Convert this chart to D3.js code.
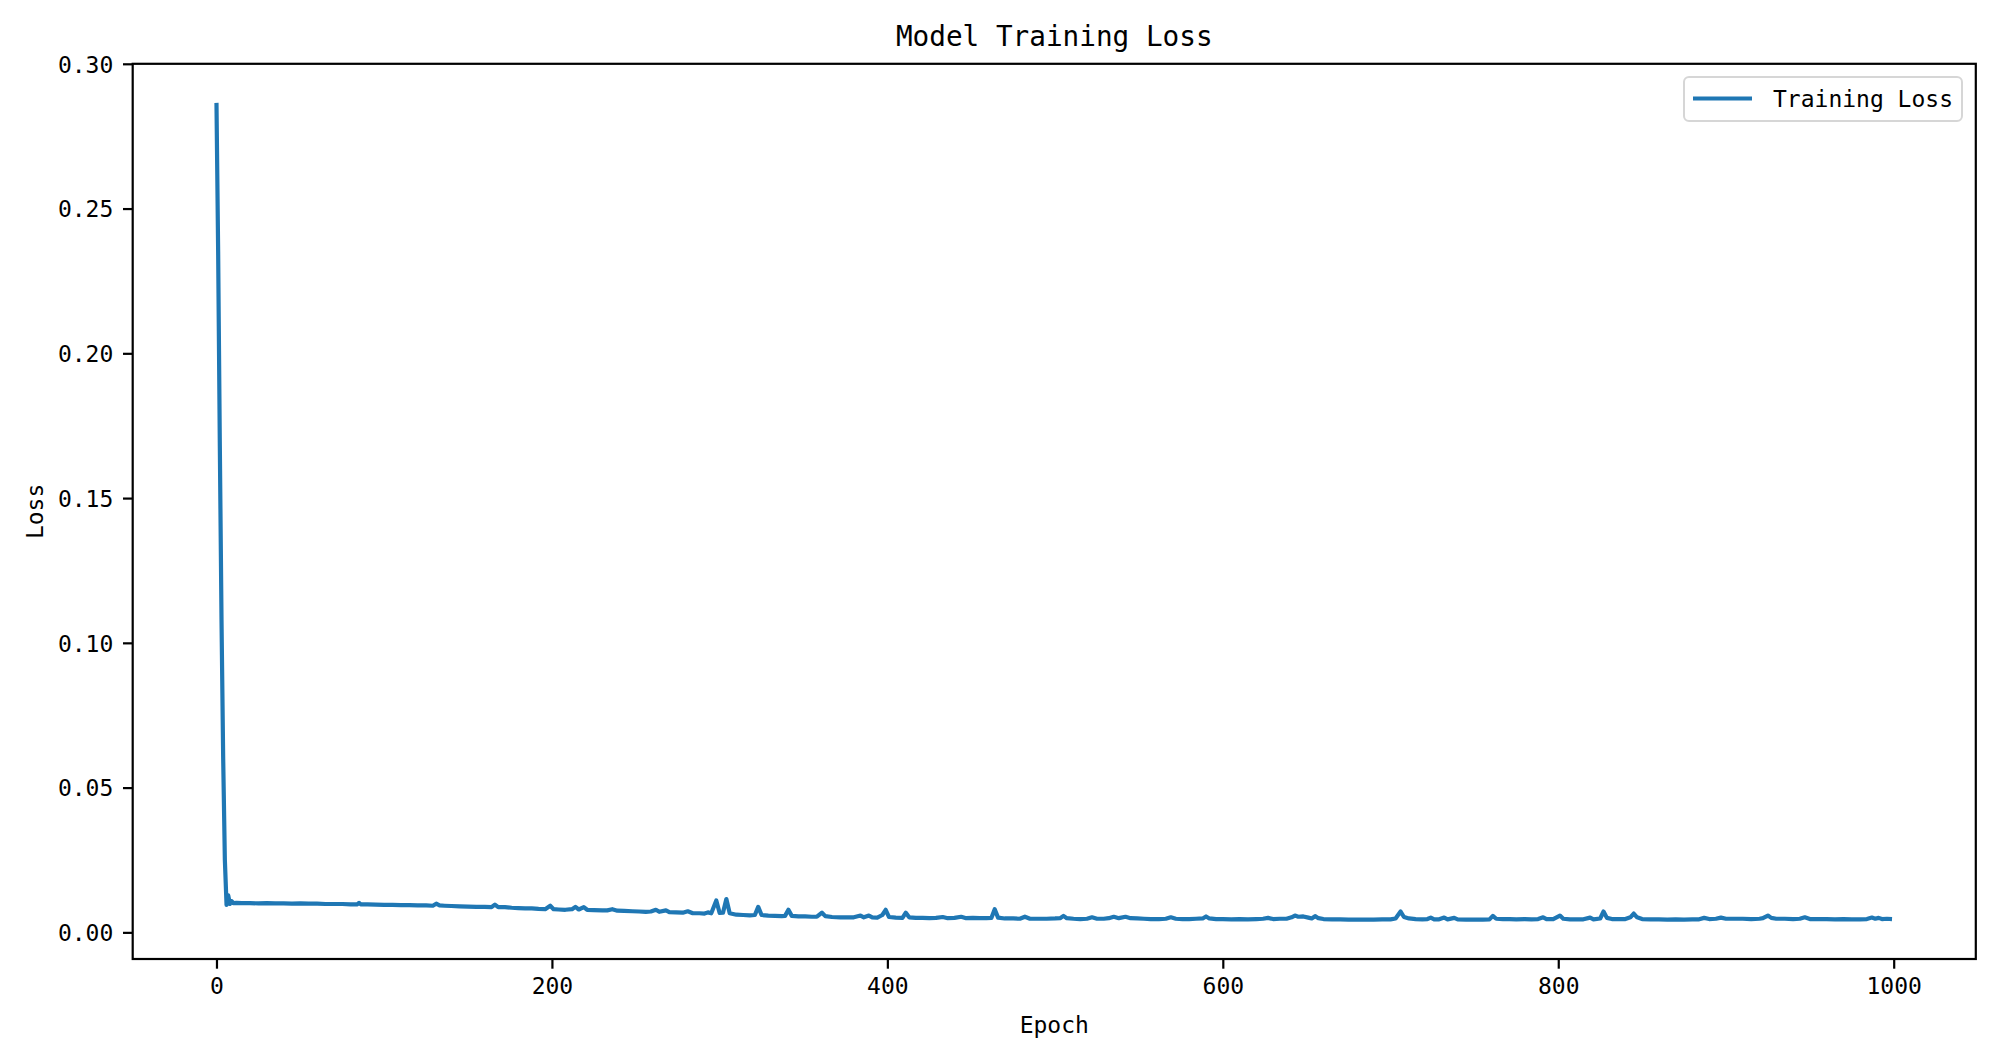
<!DOCTYPE html>
<html>
<head>
<meta charset="utf-8">
<script src="https://cdn.jsdelivr.net/npm/d3@7"></script>
<style>
  html, body { margin: 0; padding: 0; background: #ffffff; }
  svg { display: block; }
  text { font-family: "DejaVu Sans Mono", "Liberation Mono", monospace; fill: #000; }
</style>
</head>
<body>
<svg id="chart" width="2000" height="1060"></svg>
<script>
// ---------------- DATA ----------------
const chartTitle = "Model Training Loss";
const xLabel = "Epoch";
const yLabel = "Loss";
const seriesName = "Training Loss";

const xTicks = [0, 200, 400, 600, 800, 1000];
const xTickLabels = ["0", "200", "400", "600", "800", "1000"];
const yTicks = [0.00, 0.05, 0.10, 0.15, 0.20, 0.25, 0.30];
const yTickLabels = ["0.00", "0.05", "0.10", "0.15", "0.20", "0.25", "0.30"];

const epochs = [
  0,1,2,3,4,5,6,7,8,9,10,12,15,20,25,30,35,40,45,50,55,60,65,70,75,80,84,85,86,90,95,100,
  105,110,115,120,125,129,131,133,136,140,145,150,155,160,164,166,168,172,176,180,184,188,192,196,199,201,
  204,208,212,214,216,219,221,225,230,233,236,239,243,248,252,256,259,262,264,268,270,274,278,281,284,288,
  291,293,295,298,300,302,304,306,310,314,318,321,323,325,329,333,337,339,341,343,347,351,355,358,361,363,
  367,372,376,380,384,386,389,391,394,397,399,401,405,409,411,413,417,421,425,429,433,436,440,444,447,451,
  455,459,462,464,466,470,475,479,482,485,490,495,500,503,505,507,511,515,519,522,525,529,532,535,538,542,
  545,549,553,557,562,566,569,572,576,580,584,588,590,592,596,600,605,610,615,620,624,627,630,634,638,641,
  643,645,648,651,653,655,657,660,665,670,675,680,685,690,695,700,703,706,708,711,715,719,722,724,726,729,
  732,734,738,740,745,750,755,759,761,763,767,771,775,780,784,788,791,793,797,801,803,807,811,815,819,821,
  825,827,829,832,836,840,843,845,847,850,855,860,865,870,875,880,884,887,890,894,897,900,905,910,915,920,
  922,925,927,930,935,940,944,947,950,955,960,965,970,975,980,984,987,989,991,993,996,999
];

const loss = [
  0.2865,0.2350,0.1680,0.1080,0.0600,0.0250,0.0095,0.0128,0.0098,0.0108,0.0101,0.0102,0.0101,0.0101,0.0100,0.0101,0.0100,0.0100,0.0099,0.0100,0.0099,0.0099,0.0098,0.0098,0.0098,0.0097,0.0097,0.0102,0.0097,0.0097,0.0096,0.0095,
  0.0095,0.0094,0.0094,0.0093,0.0093,0.0092,0.0099,0.0093,0.0092,0.0091,0.0090,0.0089,0.0088,0.0088,0.0087,0.0096,0.0087,0.0087,0.0085,0.0084,0.0083,0.0083,0.0081,0.0080,0.0092,0.0080,
  0.0079,0.0078,0.0080,0.0088,0.0079,0.0087,0.0078,0.0077,0.0076,0.0076,0.0080,0.0075,0.0074,0.0073,0.0072,0.0071,0.0072,0.0078,0.0071,0.0076,0.0070,0.0069,0.0068,0.0073,0.0066,0.0066,
  0.0065,0.0069,0.0066,0.0110,0.0067,0.0068,0.0115,0.0066,0.0061,0.0060,0.0059,0.0060,0.0088,0.0060,0.0058,0.0057,0.0056,0.0057,0.0078,0.0057,0.0055,0.0055,0.0054,0.0054,0.0068,0.0056,
  0.0053,0.0052,0.0052,0.0052,0.0058,0.0052,0.0058,0.0052,0.0051,0.0060,0.0078,0.0053,0.0051,0.0050,0.0068,0.0052,0.0050,0.0050,0.0049,0.0050,0.0053,0.0049,0.0050,0.0054,0.0049,0.0050,
  0.0049,0.0049,0.0050,0.0080,0.0051,0.0048,0.0048,0.0047,0.0054,0.0047,0.0047,0.0047,0.0048,0.0049,0.0057,0.0049,0.0047,0.0046,0.0047,0.0052,0.0047,0.0047,0.0049,0.0054,0.0049,0.0054,
  0.0049,0.0048,0.0047,0.0046,0.0046,0.0047,0.0052,0.0047,0.0046,0.0046,0.0047,0.0048,0.0055,0.0048,0.0046,0.0046,0.0045,0.0046,0.0045,0.0046,0.0047,0.0050,0.0046,0.0047,0.0047,0.0052,
  0.0058,0.0054,0.0055,0.0051,0.0048,0.0056,0.0049,0.0046,0.0045,0.0045,0.0044,0.0044,0.0044,0.0044,0.0045,0.0045,0.0048,0.0072,0.0053,0.0048,0.0046,0.0045,0.0046,0.0051,0.0045,0.0045,
  0.0051,0.0045,0.0050,0.0045,0.0044,0.0044,0.0044,0.0045,0.0057,0.0047,0.0046,0.0046,0.0045,0.0046,0.0045,0.0046,0.0052,0.0046,0.0046,0.0058,0.0047,0.0045,0.0045,0.0045,0.0051,0.0045,
  0.0048,0.0072,0.0050,0.0046,0.0046,0.0046,0.0052,0.0065,0.0052,0.0046,0.0045,0.0045,0.0044,0.0045,0.0044,0.0045,0.0045,0.0050,0.0046,0.0047,0.0051,0.0047,0.0047,0.0047,0.0046,0.0047,
  0.0049,0.0058,0.0050,0.0047,0.0047,0.0046,0.0047,0.0052,0.0046,0.0046,0.0046,0.0045,0.0046,0.0045,0.0045,0.0046,0.0051,0.0047,0.0050,0.0046,0.0047,0.0046
];

// ---------------- LAYOUT ----------------
const W = 2000, H = 1060;
const plot = { left: 132.7, right: 1975.8, top: 63.8, bottom: 959 };
const lineColor = "#1f77b4";

const svg = d3.select("#chart");

const x = d3.scaleLinear().domain([-49.95, 1048.95]).range([plot.left, plot.right]);
const y = d3.scaleLinear().domain([-0.0092, 0.30]).range([plot.bottom, plot.top]);

// Axes
const xAxis = d3.axisBottom(x)
  .tickValues(xTicks)
  .tickFormat((d, i) => xTickLabels[i])
  .tickSize(9.7)
  .tickPadding(9);
const yAxis = d3.axisLeft(y)
  .tickValues(yTicks)
  .tickFormat((d, i) => yTickLabels[i])
  .tickSize(9.7)
  .tickPadding(9.7);

const gx = svg.append("g").attr("transform", `translate(0,${plot.bottom})`).call(xAxis);
const gy = svg.append("g").attr("transform", `translate(${plot.left},0)`).call(yAxis);
[gx, gy].forEach(g => {
  g.select(".domain").remove();
  g.selectAll(".tick line").attr("stroke", "#000").attr("stroke-width", 2.2);
  g.selectAll(".tick text").attr("fill", "#000")
    .style("font-family", '"DejaVu Sans Mono", monospace')
    .style("font-size", "23px");
});
gx.selectAll(".tick text").attr("dy", "0.71em");
gy.selectAll(".tick text").attr("dy", "0.36em");

// Line
const lineGen = d3.line()
  .x((d, i) => x(epochs[i]))
  .y((d, i) => y(loss[i]));

svg.append("path")
  .datum(loss)
  .attr("d", lineGen)
  .attr("fill", "none")
  .attr("stroke", lineColor)
  .attr("stroke-width", 4.2)
  .attr("stroke-linejoin", "round")
  .attr("stroke-linecap", "butt");

// Frame (spines)
svg.append("rect")
  .attr("x", plot.left).attr("y", plot.top)
  .attr("width", plot.right - plot.left).attr("height", plot.bottom - plot.top)
  .attr("fill", "none").attr("stroke", "#000").attr("stroke-width", 2.2);

// Title
svg.append("text")
  .attr("x", (plot.left + plot.right) / 2).attr("y", 46)
  .attr("text-anchor", "middle")
  .style("font-size", "27.7px")
  .text(chartTitle);

// Axis labels
svg.append("text")
  .attr("x", (plot.left + plot.right) / 2).attr("y", 1033)
  .attr("text-anchor", "middle")
  .style("font-size", "23px")
  .text(xLabel);

svg.append("text")
  .attr("transform", `translate(43,${(plot.top + plot.bottom) / 2}) rotate(-90)`)
  .attr("text-anchor", "middle")
  .style("font-size", "23px")
  .text(yLabel);

// Legend
const lg = svg.append("g");
lg.append("rect")
  .attr("x", 1684).attr("y", 77).attr("width", 278).attr("height", 44)
  .attr("rx", 5).attr("ry", 5)
  .attr("fill", "#ffffff").attr("fill-opacity", 0.8)
  .attr("stroke", "#d6d6d6").attr("stroke-width", 2);
lg.append("line")
  .attr("x1", 1693).attr("x2", 1752).attr("y1", 98.5).attr("y2", 98.5)
  .attr("stroke", lineColor).attr("stroke-width", 4.2);
lg.append("text")
  .attr("x", 1773).attr("y", 107)
  .style("font-size", "23px")
  .text(seriesName);
</script>
</body>
</html>
